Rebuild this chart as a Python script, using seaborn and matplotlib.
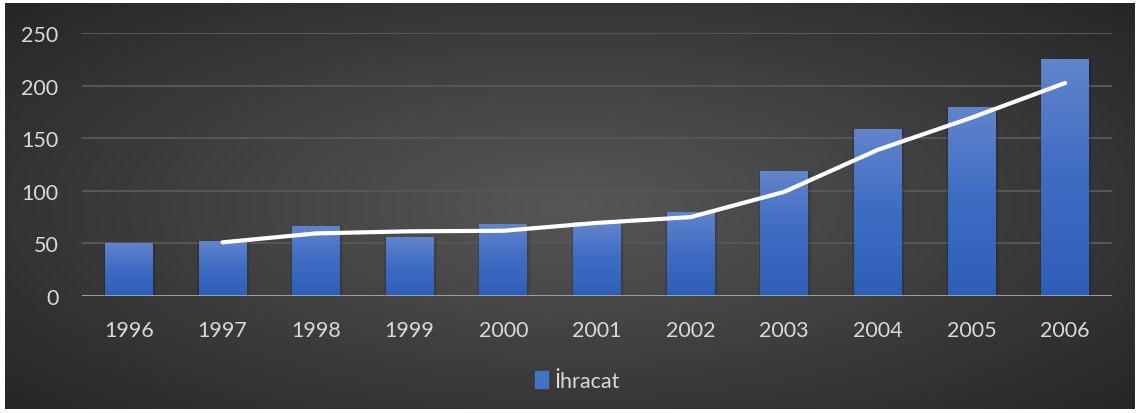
import numpy as np
import pandas as pd
import matplotlib.pyplot as plt
import seaborn as sns
from matplotlib.colors import LinearSegmentedColormap
from matplotlib.patches import Patch

years = ['1996', '1997', '1998', '1999', '2000', '2001', '2002', '2003', '2004', '2005', '2006']
exports = [50, 52, 67, 56, 68, 70, 80, 119, 159, 180, 225]
# trend line (2-period moving average), first year has no value
trend = [np.nan, 51, 59.5, 61.5, 62, 69.5, 75, 99, 139, 169.5, 202.5]

sns.set_theme(style='dark')
plt.rcParams['font.family'] = ['Lato', 'DejaVu Sans']

fig = plt.figure(figsize=(11.4, 4.14), dpi=100)
fig.patch.set_facecolor('white')

# radial dark gradient background
bg = fig.add_axes([5 / 1140, 4 / 414, 1130 / 1140, 406 / 414])
xx, yy = np.meshgrid(np.linspace(-1, 1, 800), np.linspace(-1, 1, 300))
r = np.sqrt(xx ** 2 + (yy * 0.9) ** 2)
bg_cmap = LinearSegmentedColormap.from_list('bg', ['#575757', '#3f3f3f', '#262626'])
bg.imshow(r, cmap=bg_cmap, aspect='auto', vmin=0, vmax=1.35)
bg.axis('off')

ax = fig.add_axes([82 / 1140, 1 - 297 / 414, 1030 / 1140, 263 / 414])
ax.patch.set_alpha(0)

df = pd.DataFrame({'Yıl': years, 'İhracat': exports, 'Trend': trend})
sns.barplot(data=df, x='Yıl', y='İhracat', ax=ax, width=0.51, color='#4472c4',
            saturation=1, zorder=2, linewidth=0, edgecolor='none')

# vertical gradient inside each bar
bar_cmap = LinearSegmentedColormap.from_list('bar', ['#2e5fb8', '#3d6cc3', '#6284cc'])
grad = np.linspace(0, 1, 256).reshape(-1, 1)
for p in list(ax.patches):
    x0, y0 = p.get_x(), p.get_y()
    w, h = p.get_width(), p.get_height()
    # soft shadow (a few stacked translucent rectangles)
    for k in range(3):
        d = 0.012 * (k + 1)
        ax.add_patch(plt.Rectangle((x0 - d / 2, y0 - 1.5), w + d * 1.5, h + 1.5,
                                   color='black', alpha=0.06, zorder=1, lw=0))
    im = ax.imshow(grad, cmap=bar_cmap, extent=[x0, x0 + w, y0, y0 + h],
                   origin='lower', aspect='auto', zorder=3)
    im.set_clip_path(p)

sns.lineplot(x=df.index, y=df['Trend'], ax=ax, color='white', lw=3, zorder=4,
             solid_capstyle='round')

ax.set_xlim(-0.5, len(years) - 0.5)
ax.set_ylim(0, 250)
ax.set_yticks([0, 50, 100, 150, 200, 250])
ax.grid(axis='y', color='#565656', lw=1.5)
ax.grid(axis='x', visible=False)
ax.axhline(0, color='#a6a6a6', lw=2, zorder=5)
for s in ax.spines.values():
    s.set_visible(False)
ax.set_xlabel('')
ax.set_ylabel('')
ax.tick_params(axis='both', colors='#d9d9d9', labelsize=15.5, length=0)
ax.tick_params(axis='x', pad=17)
ax.tick_params(axis='y', pad=17)

leg = fig.legend(handles=[Patch(color='#4472c4', label='İhracat')], loc='center',
                 bbox_to_anchor=(577 / 1140, 1 - 382 / 414), frameon=False,
                 handlelength=0.6, handleheight=0.8, handletextpad=0.3, fontsize=15.5)
for t in leg.get_texts():
    t.set_color('#d9d9d9')

fig.savefig('out.png', dpi=100, facecolor='white')
